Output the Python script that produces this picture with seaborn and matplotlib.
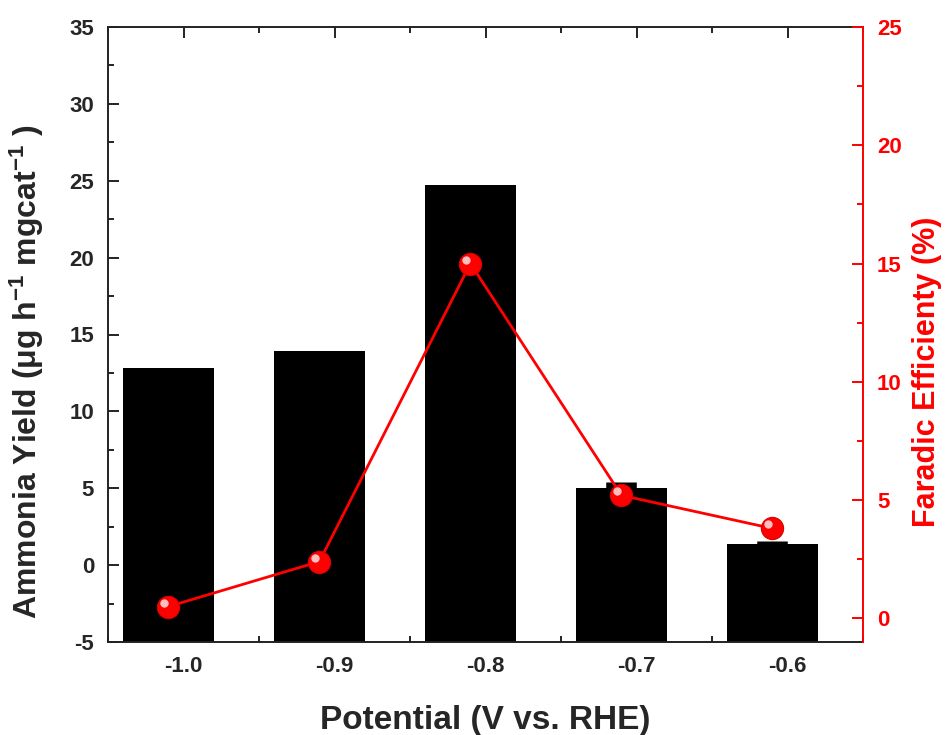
import numpy as np
import pandas as pd
import matplotlib
matplotlib.use("Agg")
import matplotlib.pyplot as plt
import seaborn as sns
from matplotlib.ticker import MultipleLocator
from matplotlib.transforms import offset_copy

# ---- data ----
potentials = [-1.0, -0.9, -0.8, -0.7, -0.6]
x_tick_labels = ["-1.0", "-0.9", "-0.8", "-0.7", "-0.6"]
ammonia_yield = [12.8, 13.9, 24.7, 5.0, 1.35]
yield_err = [0.0, 0.0, 0.0, 0.4, 0.2]
faradic_eff = [0.5, 2.4, 15.0, 5.2, 3.8]

# ---- style ----
BAR_SHIFT = -0.01   # bars/points drawn slightly left of tick marks, as in reference
Y_MIN, Y_MAX = -5, 35
RED = "#FF0000"
AX_COL = "#222222"

sns.set_theme(style="ticks")
plt.rcParams["font.family"] = ["Liberation Sans", "DejaVu Sans"]
plt.rcParams["font.weight"] = "bold"
plt.rcParams["axes.unicode_minus"] = False
plt.rcParams["mathtext.fontset"] = "custom"
plt.rcParams["mathtext.rm"] = "Liberation Sans:bold"
plt.rcParams["mathtext.bf"] = "Liberation Sans:bold"
plt.rcParams["mathtext.default"] = "bf"

fig = plt.figure(figsize=(9.46, 7.35), dpi=100)
ax = fig.add_axes([108 / 946, 1 - 642 / 735, (863 - 108) / 946, (642 - 27) / 735])

xpos = np.array(potentials) + BAR_SHIFT
df = pd.DataFrame({"Potential": xpos, "Yield": ammonia_yield, "FE": faradic_eff})

sns.barplot(data=df, x="Potential", y="Yield", native_scale=True, width=0.6,
            color="black", saturation=1, edgecolor="black", linewidth=0,
            errorbar=None, ax=ax, zorder=2)
# bars in the reference are filled down to the bottom of the axis
for p in ax.patches:
    top = p.get_y() + p.get_height()
    p.set_y(Y_MIN)
    p.set_height(top - Y_MIN)

err = np.array(yield_err)
mask = err > 0
ax.errorbar(xpos[mask], np.array(ammonia_yield)[mask],
            yerr=[np.zeros(mask.sum()), err[mask]],
            fmt="none", ecolor="black", elinewidth=22, capsize=0, zorder=3)

ax.set_xlim(-1.05, -0.55)
ax.set_ylim(Y_MIN, Y_MAX)
ax.set_xticks(potentials)
ax.set_xticklabels(x_tick_labels)
ax.xaxis.set_minor_locator(MultipleLocator(0.05))
ax.yaxis.set_major_locator(MultipleLocator(5))
ax.yaxis.set_minor_locator(MultipleLocator(2.5))
ax.tick_params(which="both", direction="in", top=True, right=False,
               width=1.4, color=AX_COL, labelsize=16)
ax.tick_params(which="major", length=8, pad=10)
ax.tick_params(which="minor", length=4)
for lab in ax.get_xticklabels() + ax.get_yticklabels():
    lab.set_fontweight("bold")
for s in ["left", "bottom", "top"]:
    ax.spines[s].set_color(AX_COL)
    ax.spines[s].set_linewidth(1.4)
ax.spines["right"].set_visible(False)

ax.set_xlabel("Potential (V vs. RHE)", fontsize=24, fontweight="bold", labelpad=20)
ax.set_ylabel(r"Ammonia Yield (μg h$^{-1}$ mgcat$^{-1}$ )", fontsize=23,
              fontweight="bold")
ax.yaxis.set_label_coords(-0.082, 0.44)

# ---- faradic efficiency on twin axis ----
ax2 = ax.twinx()
sns.lineplot(data=df, x="Potential", y="FE", ax=ax2, color=RED, linewidth=2,
             marker="o", markersize=16, markeredgecolor="#DD0000",
             markeredgewidth=0.8, zorder=4)
ax2.plot(xpos, faradic_eff, "o", ms=6, color="white", alpha=0.75, mew=0,
         transform=offset_copy(ax2.transData, fig=fig, x=-4, y=4, units="dots"),
         zorder=5)
ax2.set_ylim(-1, 25)
ax2.yaxis.set_major_locator(MultipleLocator(5))
ax2.yaxis.set_minor_locator(MultipleLocator(2.5))
ax2.tick_params(which="both", direction="in", colors=RED, width=1.4, labelsize=16)
ax2.tick_params(which="major", length=8, pad=10)
ax2.tick_params(which="minor", length=4)
for lab in ax2.get_yticklabels():
    lab.set_fontweight("bold")
ax2.spines["right"].set_color(RED)
ax2.spines["right"].set_linewidth(1.4)
for s in ["left", "top", "bottom"]:
    ax2.spines[s].set_visible(False)
ax2.set_ylabel("Faradic Efficienty (%)", fontsize=22, fontweight="bold",
               color=RED)
ax2.yaxis.set_label_coords(1.065, 0.44)
ax2.set_xlim(-1.05, -0.55)

fig.savefig("out.png", dpi=100)
